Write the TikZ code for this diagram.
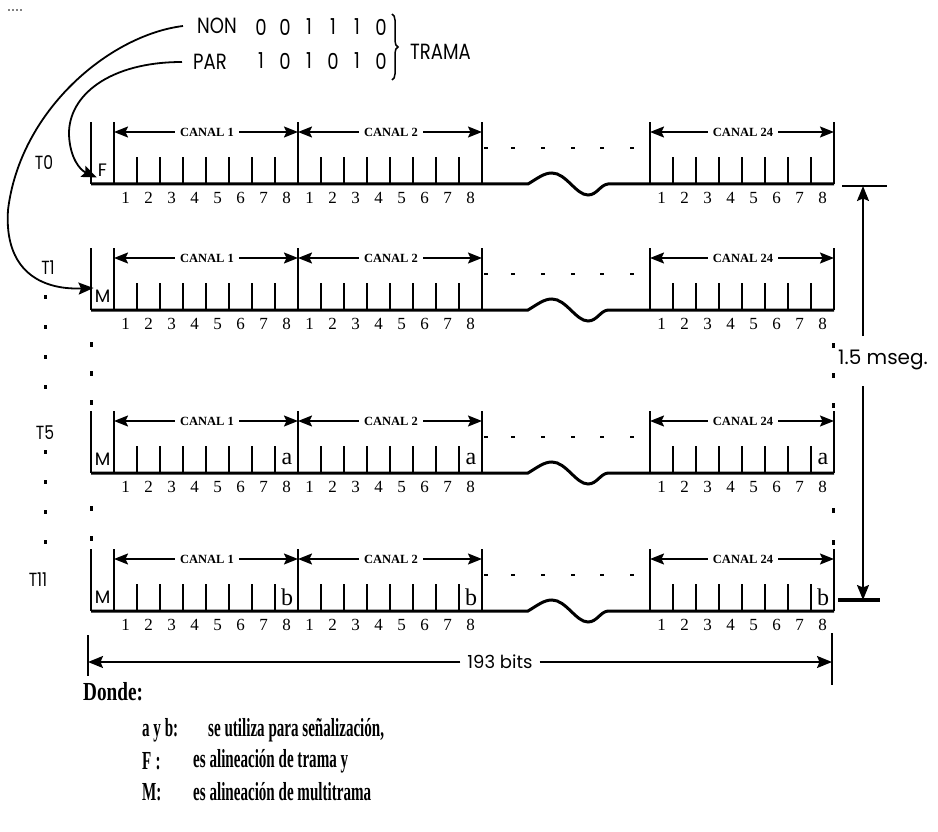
\documentclass[tikz,border=0pt]{standalone}
\usepackage{fontspec}
\setmainfont{Liberation Serif}
\newfontfamily\gothfont[FakeStretch=0.82]{Poppins}
\newfontfamily\widefont{Poppins}
\newfontfamily\condfont[FakeStretch=0.58]{Liberation Serif}
\newfontfamily\dondefont[FakeStretch=0.74]{Liberation Serif}
\usetikzlibrary{arrows.meta,calc,decorations.pathreplacing}
\newcommand{\bitfont}{\fontsize{17}{19}\selectfont}
\newcommand{\chanfont}{\fontsize{12.5}{14}\selectfont\bfseries}
\newcommand{\labfont}{\gothfont\fontsize{19}{22}\selectfont}
\newcommand{\topfont}{\gothfont\fontsize{22}{26}\selectfont}
\newcommand{\legfont}{\condfont\bfseries\fontsize{26}{30}\selectfont}

\begin{document}
\begin{tikzpicture}[x=1pt,y=-1pt,
  wire/.style={line width=2.3pt},
  base/.style={line width=3pt},
  dimline/.style={line width=1.8pt,-{Stealth[length=15pt,width=12pt,inset=2.5pt]}},
  dimboth/.style={line width=1.8pt,{Stealth[length=14pt,width=11pt,inset=2.5pt]}-{Stealth[length=14pt,width=11pt,inset=2.5pt]}},
  chan/.style={fill=white,inner sep=5pt,font=\chanfont},
  slotfont/.style={font=\widefont\fontsize{18}{20}\selectfont,inner sep=1pt},
  legend/.style={anchor=west,inner sep=0,font=\legfont}]
\useasboundingbox (0,0) rectangle (938,832);
\foreach \x in {9,13,17,21} \fill (\x,10) circle (0.9);
\node[font=\topfont,anchor=west,inner sep=0] (non) at (197,26) {NON};
\node[font=\topfont,anchor=west,inner sep=0] (par) at (193,62) {PAR};
\foreach \d [count=\i] in {0,0,1,1,1,0} \node[font=\topfont,inner sep=0] (nd\i) at (237+24*\i,27) {\d};
\foreach \d [count=\i] in {1,0,1,0,1,0} \node[font=\topfont,inner sep=0] (pd\i) at (237+24*\i,61) {\d};
\draw[line width=1.5pt,decorate,decoration={brace,amplitude=6pt}] (392,14) -- (392,80);
\node[font=\topfont,anchor=west,inner sep=0] (trama) at (410,52) {TRAMA};
\foreach \y/\tl/\tx/\ty/\sl/\sg [count=\r] in {184/T0/44/163/F/{},310/T1/48/268/M/{},473/T5/45/433/M/a,611/T11/38/580/M/b}{
  \node[font=\labfont] (t\r) at (\tx,\ty) {\tl};
  \draw[base] (91,\y) -- (528,\y) .. controls (538,\y-6) and (544,\y-11) .. (552,\y-11)
    .. controls (566,\y-11) and (576,\y+11) .. (588,\y+11)
    .. controls (597,\y+11) and (600,\y+1) .. (608,\y) -- (834,\y);
  \foreach \x in {91,114,298,482,650,834} \draw[wire] (\x,\y) -- (\x,\y-62);
  \foreach \c/\n in {114/1,298/2,650/24}{
    \foreach \k in {1,...,7} \draw[wire] (\c+\k*23,\y) -- (\c+\k*23,\y-27);
    \foreach \k in {1,...,8} \node[font=\bitfont,inner sep=0] (b\r-\n-\k) at (\c+\k*23-11.5,\y+14) {\k};
    \draw[dimboth] (\c,\y-52) -- (\c+184,\y-52);
    \node[chan] (c\r-\n) at (\c+93,\y-52) {CANAL \n};
    \node[font=\fontsize{24}{26}\selectfont,inner sep=0] (g\r-\n) at (\c+173,\y-14) {\sg};
  }
  \foreach \x in {486,513,543,573,602,632} \fill (\x-2,\y-37) rectangle (\x+2,\y-35);
  \node[slotfont] (s\r) at (102.5,\y-14) {\sl};
}
\draw[line width=1.8pt,-{Stealth[length=15pt,width=12pt,inset=2.5pt]}] ([xshift=-14pt]non.west) .. controls (110,35) and (20,110) .. (8,210) .. controls (4,270) and (40,290) .. ([yshift=8pt]s2.west);
\draw[line width=1.8pt,-{Stealth[length=15pt,width=12pt,inset=2.5pt]}] ([xshift=-11pt]par.west) .. controls (110,62) and (68,95) .. (69,135) .. controls (70,158) and (80,170) .. (s1.south west);
\foreach \yy in {342,371,400,506,536} \fill (89.5,\yy) rectangle (92.5,\yy+5);
\foreach \yy in {343,373,403,508,540} \fill (831.5,\yy) rectangle (834.5,\yy+5);
\foreach \yy in {295,325,355,385,450,480,510,540} \fill (44,\yy) rectangle (47,\yy+4);
\coordinate (mtop) at (863,186);
\coordinate (mbot) at (863,600);
\node[font=\widefont\fontsize{20}{23}\selectfont,anchor=west,inner sep=0] (ms) at (838,360) {1.5 mseg.};
\draw[dimline] (863,336) -- (mtop);
\draw[dimline] (863,386) -- (mbot);
\draw[line width=2.5pt] (842,186) -- (887,186);
\draw[line width=3.5pt] (838,600) -- (880,600);
\draw[wire] (88,635) -- (88,676);
\draw[wire] (832,633) -- (832,685);
\node[font=\widefont\fontsize{18}{20}\selectfont,inner sep=7pt] (bits) at (500,662) {193 bits};
\draw[dimline] (bits.west) -- (88,662);
\draw[dimline] (bits.east) -- (832,662);
\node[anchor=west,inner sep=0,font=\dondefont\bfseries\fontsize{26}{30}\selectfont] (donde) at (83,692) {Donde:};
\node[legend] (ab) at (142,730) {a y b:};
\node[legend] (abtxt) at (208,730) {se utiliza para señalización,};
\node[legend] (f) at (142,761) {F\,:};
\node[legend] (ftxt) at (193,761) {es alineación de trama y};
\node[legend] (m) at (142,792) {M:};
\node[legend] (mtxt) at (193,792) {es alineación de multitrama};
\end{tikzpicture}
\end{document}
